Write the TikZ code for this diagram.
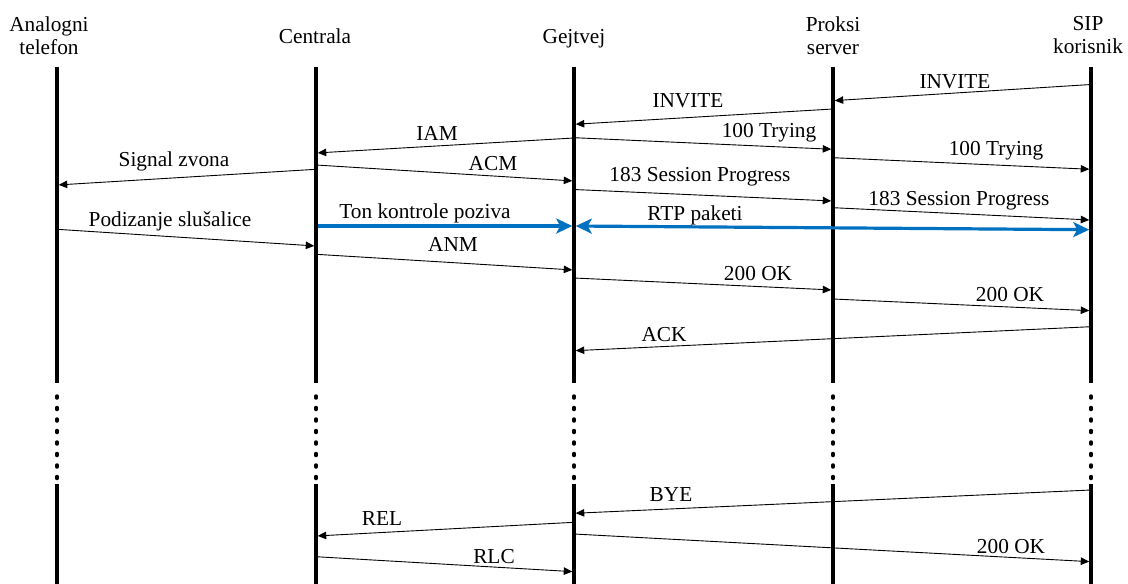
\documentclass[tikz,border=0pt]{standalone}
\usepackage{fontspec}
\setmainfont{Liberation Serif}
\usetikzlibrary{arrows.meta}
\definecolor{sigblue}{RGB}{0,112,192}
\begin{document}
\begin{tikzpicture}[x=1pt,y=-1pt,
  life/.style={line width=3.5pt},
  lifedot/.style={line width=3.5pt, line cap=round, dash pattern=on 2pt off 9.5pt},
  msg/.style={line width=0.9pt, -{Triangle[length=8.5pt,width=7.5pt]}, shorten >=1.75pt, shorten <=1.75pt},
  media/.style={line width=3.2pt, draw=sigblue, shorten >=1.75pt, shorten <=1.75pt},
  btip/.tip={Stealth[length=16pt,width=15pt,inset=4pt,sigblue]},
  lbl/.style={anchor=base, inner sep=0pt, font=\fontsize{21.3}{23.5}\selectfont},
  head/.style={anchor=north, inner sep=0pt, align=center, font=\fontsize{21.3}{23}\selectfont}]
\useasboundingbox (0,0) rectangle (1128,584);

% participants
\node[head] (hA) at (49,16.5) {Analogni\\telefon};
\node[lbl]  (hC) at (315,43) {Centrala};
\node[lbl]  (hG) at (574,43) {Gejtvej};
\node[head] (hP) at (833,16.5) {Proksi\\server};
\node[head] (hS) at (1088,16.5) {SIP\\korisnik};

\coordinate (A) at (57,67);
\coordinate (C) at (316,67);
\coordinate (G) at (574,67);
\coordinate (P) at (833,67);
\coordinate (S) at (1091,67);

\foreach \n in {A,C,G,P,S}{
  \draw[life] (\n) -- (\n |- 0,383);
  \draw[lifedot] (\n |- 0,396) -- (\n |- 0,478.5);
  \draw[life] (\n |- 0,484) -- (\n |- 0,584);
}

% call setup
\draw[msg] (S |- 0,84.5) -- (P |- 0,100.7) node[lbl] (l1) at (955,88) {INVITE};
\draw[msg] (P |- 0,109) -- (G |- 0,124.3) node[lbl] (l2) at (688,107) {INVITE};
\draw[msg] (G |- 0,138) -- (C |- 0,153) node[lbl] (l3) at (437,140) {IAM};
\draw[msg] (G |- 0,137.7) -- (P |- 0,149.3) node[lbl] (l4) at (769,137) {100 Trying};
\draw[msg] (P |- 0,157.7) -- (S |- 0,169.3) node[lbl] (l5) at (996,155.5) {100 Trying};
\draw[msg] (C |- 0,169.3) -- (A |- 0,185) node[lbl] (l6) at (174,166) {Signal zvona};
\draw[msg] (C |- 0,165) -- (G |- 0,181) node[lbl] (l7) at (493,170.5) {ACM};
\draw[msg] (G |- 0,189.5) -- (P |- 0,201) node[lbl] (l8) at (700,181.5) {183 Session Progress};
\draw[msg] (P |- 0,207.7) -- (S |- 0,220) node[lbl] (l9) at (959,205.5) {183 Session Progress};

% media
\draw[media, -btip] (C |- 0,226) -- (G |- 0,226) node[lbl] (l10) at (425,218.5) {Ton kontrole poziva};
\draw[media, btip-btip] (G |- 0,226) -- (S |- 0,229.7) node[lbl] (l11) at (695,220) {RTP paketi};

\draw[msg] (A |- 0,229.3) -- (C |- 0,246) node[lbl] (l12) at (170,226) {Podizanje slušalice};
\draw[msg] (C |- 0,254.3) -- (G |- 0,270) node[lbl] (l13) at (453,251) {ANM};
\draw[msg] (G |- 0,278) -- (P |- 0,290) node[lbl] (l14) at (758,280) {200 OK};
\draw[msg] (P |- 0,299) -- (S |- 0,310.7) node[lbl] (l15) at (1010,301) {200 OK};
\draw[msg] (S |- 0,326.7) -- (G |- 0,350.7) node[lbl] (l16) at (664,341.5) {ACK};

% release
\draw[msg] (S |- 0,490) -- (G |- 0,513.3) node[lbl] (l17) at (671,501) {BYE};
\draw[msg] (G |- 0,522.3) -- (C |- 0,536) node[lbl] (l18) at (382,525) {REL};
\draw[msg] (G |- 0,534) -- (S |- 0,561.7) node[lbl] (l19) at (1011,553) {200 OK};
\draw[msg] (C |- 0,556.7) -- (G |- 0,571.7) node[lbl] (l20) at (494,563) {RLC};
\end{tikzpicture}
\end{document}
